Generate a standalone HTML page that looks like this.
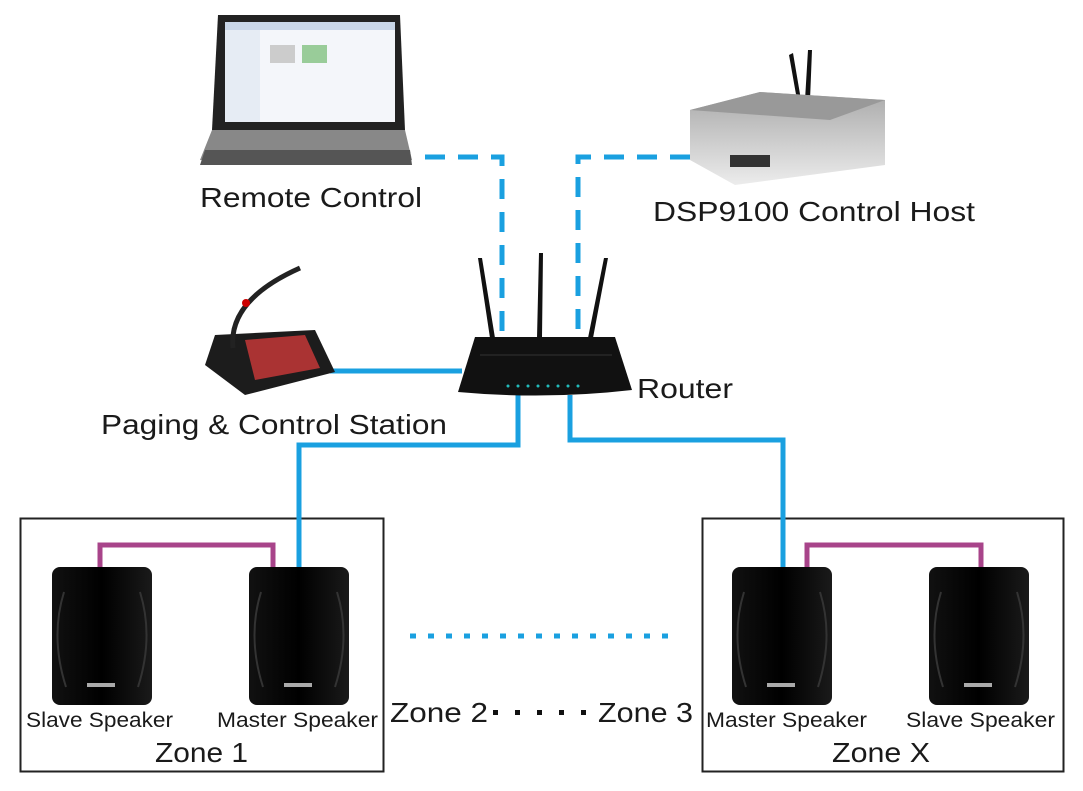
<!DOCTYPE html>
<html><head><style>body{margin:0;background:#fff}svg{display:block}text{font-family:"Liberation Sans",sans-serif;fill:#1a1a1a}</style></head><body>
<svg width="1083" height="791" viewBox="0 0 1083 791" xmlns="http://www.w3.org/2000/svg">
<defs>
<linearGradient id="sp" x1="0" x2="1"><stop offset="0" stop-color="#111"/><stop offset="0.5" stop-color="#000"/><stop offset="1" stop-color="#1a1a1a"/></linearGradient>
<linearGradient id="sil" x1="0" y1="0" x2="0" y2="1"><stop offset="0" stop-color="#aaa"/><stop offset="1" stop-color="#ececec"/></linearGradient>
<g id="spk"><rect x="0" y="0" width="100" height="138" rx="8" fill="url(#sp)"/><path d="M12 25 Q-2 70 14 120 M88 25 Q102 70 86 120" stroke="#333" stroke-width="2" fill="none"/><rect x="35" y="116" width="28" height="4" fill="#aaa"/></g>
</defs>
<rect x="20.5" y="518.5" width="363" height="253" fill="none" stroke="#222" stroke-width="2"/>
<rect x="702.5" y="518.5" width="361" height="253" fill="none" stroke="#222" stroke-width="2"/>
<path d="M100 570 V545 H273 V570" stroke="#a8448a" stroke-width="5" fill="none"/>
<path d="M807 570 V545 H981 V570" stroke="#a8448a" stroke-width="5" fill="none"/>
<g stroke="#1aa0e0" stroke-width="5" fill="none">
<path d="M299 570 V445 H518 V395"/>
<path d="M570 395 V440 H783 V570"/>
<path d="M330 371 H462"/>
<path d="M425 157 H502 V340" stroke-dasharray="20 13"/>
<path d="M690 157 H578 V340" stroke-dasharray="20 13"/>
<path d="M410 636 H680" stroke-dasharray="6 12"/>
</g>
<use href="#spk" x="52" y="567"/><use href="#spk" x="249" y="567"/>
<use href="#spk" x="732" y="567"/><use href="#spk" x="929" y="567"/>
<path d="M218 15 H400 L405 130 H212 Z" fill="#222"/>
<rect x="225" y="22" width="170" height="100" fill="#f4f6fa"/>
<rect x="225" y="22" width="170" height="8" fill="#c9d6e8"/>
<rect x="225" y="30" width="35" height="92" fill="#e6ecf4"/>
<rect x="270" y="45" width="25" height="18" fill="#ccc"/><rect x="302" y="45" width="25" height="18" fill="#9c9"/>
<path d="M212 130 H405 L412 160 Q310 170 200 160 Z" fill="#888"/>
<path d="M205 150 H410 L412 165 H200 Z" fill="#555"/>
<path d="M797 100 L789 55 L793 53 L801 100Z M805 100 L808 50 L812 50 L810 100Z" fill="#111"/>
<path d="M690 110 L760 92 L885 100 L885 165 L735 185 L690 160 Z" fill="url(#sil)"/>
<path d="M690 110 L760 92 L885 100 L830 120 Z" fill="#999"/>
<rect x="730" y="155" width="40" height="12" fill="#333"/>
<path d="M215 335 L315 330 L335 372 L245 395 L205 365 Z" fill="#1c1c1c"/>
<path d="M245 340 L305 335 L320 368 L255 380 Z" fill="#a33"/>
<path d="M233 348 Q228 300 300 268" stroke="#222" stroke-width="5" fill="none"/>
<circle cx="246" cy="303" r="4" fill="#c00"/>
<path d="M478 258 L490 338 L495 338 L482 258Z M539 253 L537 338 L542 338 L543 253Z M604 258 L588 338 L593 338 L608 258Z" fill="#111"/>
<path d="M475 337 L615 337 L632 390 Q545 400 458 392 Z" fill="#111"/>
<path d="M480 355 L612 355" stroke="#333"/>
<g fill="#2bb">
<circle cx="508" cy="386" r="1.5"/><circle cx="518" cy="386" r="1.5"/><circle cx="528" cy="386" r="1.5"/><circle cx="538" cy="386" r="1.5"/><circle cx="548" cy="386" r="1.5"/><circle cx="558" cy="386" r="1.5"/><circle cx="568" cy="386" r="1.5"/><circle cx="578" cy="386" r="1.5"/></g>
<g fill="#111"><rect x="493" y="710" width="5" height="5"/><rect x="515" y="710" width="5" height="5"/><rect x="537" y="710" width="5" height="5"/><rect x="559" y="710" width="5" height="5"/><rect x="581" y="710" width="5" height="5"/></g>
<text x="200" y="207" font-size="28" textLength="222" lengthAdjust="spacingAndGlyphs">Remote Control</text>
<text x="653" y="221" font-size="28" textLength="322" lengthAdjust="spacingAndGlyphs">DSP9100 Control Host</text>
<text x="637" y="398" font-size="28" textLength="96" lengthAdjust="spacingAndGlyphs">Router</text>
<text x="101" y="434" font-size="28" textLength="346" lengthAdjust="spacingAndGlyphs">Paging &amp; Control Station</text>
<text x="26" y="727" font-size="21" textLength="147" lengthAdjust="spacingAndGlyphs">Slave Speaker</text>
<text x="217" y="727" font-size="21" textLength="161" lengthAdjust="spacingAndGlyphs">Master Speaker</text>
<text x="706" y="727" font-size="21" textLength="161" lengthAdjust="spacingAndGlyphs">Master Speaker</text>
<text x="906" y="727" font-size="21" textLength="149" lengthAdjust="spacingAndGlyphs">Slave Speaker</text>
<text x="155" y="762" font-size="28" textLength="93" lengthAdjust="spacingAndGlyphs">Zone 1</text>
<text x="832" y="762" font-size="28" textLength="98" lengthAdjust="spacingAndGlyphs">Zone X</text>
<text x="390" y="722" font-size="28" textLength="98" lengthAdjust="spacingAndGlyphs">Zone 2</text>
<text x="598" y="722" font-size="28" textLength="95" lengthAdjust="spacingAndGlyphs">Zone 3</text>
</svg>
</body></html>
